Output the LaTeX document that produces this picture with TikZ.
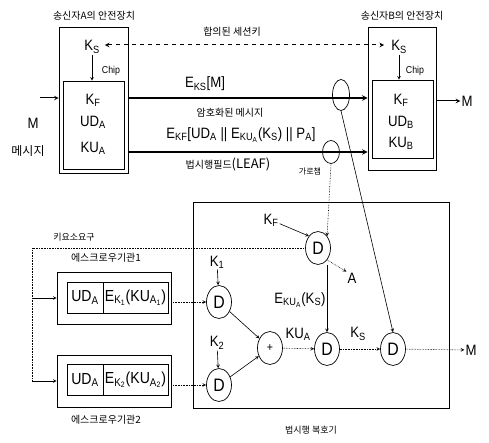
\documentclass[tikz,border=0pt]{standalone}
\usepackage{fontspec}
\setmainfont{Liberation Sans}[FakeStretch=0.88]
\newfontfamily\kr{Noto Sans CJK KR}
\usepackage{tikz}
\usetikzlibrary{shapes.geometric, arrows, positioning, calc}
\newcommand{\sub}[1]{\textsubscript{#1}}
\tikzstyle{outer3} = [rectangle, draw=black, line width=0.7pt, inner sep=0pt]
\tikzstyle{cell3} = [rectangle, draw=black, line width=0.7pt, outer sep=0pt, minimum height=31pt, inner sep=1pt, font=\fontsize{16}{18}\selectfont]
\tikzstyle{lbl3} = [inner sep=1pt, font=\fontsize{15}{17}\selectfont]
\tikzstyle{kor3} = [inner sep=1pt, font=\kr\fontsize{10}{12}\selectfont]
\tikzstyle{dec3} = [ellipse, draw=black, line width=0.7pt, minimum width=25pt, minimum height=33pt, inner sep=0pt, font=\fontsize{18}{20}\selectfont]
\tikzstyle{tap3} = [ellipse, draw=black, line width=0.7pt, inner sep=0pt]
\tikzstyle{arrow3} = [line width=1.5pt,->,>=stealth]
\tikzstyle{thin3} = [line width=0.6pt,->,>=stealth]
\tikzstyle{dots3} = [line width=0.6pt, densely dotted]
\tikzstyle{dotarrow3} = [dots3,->,>=stealth]

\begin{document}
\begin{tikzpicture}[x=1pt, y=-1pt]
            \useasboundingbox (0,0) rectangle (489,443);
            % Nodes
            \node (outA) [outer3, minimum width=69pt, minimum height=146pt] at (93.5,100) {};
            \node (inA) [outer3, minimum width=61pt, minimum height=88pt] at (93.5,125) {};
            \node (outB) [outer3, minimum width=68pt, minimum height=143pt] at (402,98.5) {};
            \node (inB) [outer3, minimum width=61pt, minimum height=78pt] at (402.5,119) {};
            \node (devA) [kor3] at (94,16) {송신자A의 안전장치};
            \node (devB) [kor3] at (402,16) {송신자B의 안전장치};

            \node (ksA) [lbl3] at (92,47) {K\sub{S}};
            \node (chipA) [lbl3, font=\fontsize{10}{12}\selectfont] at (111,71) {Chip};
            \node (kfA) [lbl3] at (93,100) {K\sub{F}};
            \node (udA) [lbl3] at (93,122) {UD\sub{A}};
            \node (kuA) [lbl3] at (93,148) {KU\sub{A}};

            \node (ksB) [lbl3] at (399,47) {K\sub{S}};
            \node (chipB) [lbl3, font=\fontsize{10}{12}\selectfont] at (415,71) {Chip};
            \node (kfB) [lbl3] at (401,100) {K\sub{F}};
            \node (udB) [lbl3] at (401,122) {UD\sub{B}};
            \node (kuB) [lbl3] at (401,143) {KU\sub{B}};

            \node (mA) [lbl3] at (33,123) {M};
            \node (msgA) [kor3, font=\kr\fontsize{12}{14}\selectfont] at (28,151) {메시지};
            \node (mB) [lbl3] at (467,101) {M};
            \coordinate (mIn) at (40,98);

            \node (sesskey) [kor3] at (232,32) {합의된 세션키};
            \node (eksm) [lbl3] at (205,84) {E\sub{KS}[M]};
            \node (encmsg) [kor3] at (230,113) {암호화된 메시지};
            \node (leafexp) [lbl3] at (241,135) {E\sub{KF}[UD\sub{A} || E\sub{KU\sub{A}}(K\sub{S}) || P\sub{A}]};
            \node (leaflbl) [kor3] at (228,164) {법시행필드\fontsize{13}{15}\selectfont(LEAF)};
            \coordinate (leafA) at (128,152);

            \node (tap1) [tap3, minimum width=17pt, minimum height=31pt] at (341,95) {};
            \node (tap2) [tap3, minimum width=17pt, minimum height=23pt] at (331,152) {};
            \node (intercept) [kor3, font=\kr\fontsize{8}{10}\selectfont] at (310,172) {가로챔};

            \node (lawbox) [outer3, minimum width=256pt, minimum height=206pt] at (321,305) {};
            \node (lawlbl) [kor3, font=\kr\fontsize{9}{11}\selectfont] at (311,430) {법시행 복호기};

            \node (dF) [dec3] at (318,248) {D};
            \node (kF) [lbl3] at (271,220) {K\sub{F}};
            \node (aOut) [lbl3] at (352,278) {A};
            \node (dK1) [dec3] at (219,302) {D};
            \node (k1) [lbl3] at (217,262) {K\sub{1}};
            \node (dK2) [dec3] at (219,385) {D};
            \node (k2) [lbl3] at (217,343) {K\sub{2}};
            \node (plus) [dec3, font=\fontsize{12}{14}\selectfont] at (270,348) {+};
            \node (dKU) [dec3] at (327,349) {D};
            \node (dM) [dec3] at (393,349) {D};
            \node (ekuks) [lbl3] at (300,300) {E\sub{KU\sub{A}}(K\sub{S})};
            \node (kuAlbl) [lbl3] at (298,334) {KU\sub{A}};
            \node (ksLbl) [lbl3] at (358,334) {K\sub{S}};
            \node (mOut) [lbl3] at (471,350) {M};

            \node (keyreq) [kor3, font=\kr\fontsize{9}{11}\selectfont] at (74,237) {키요소요구};
            \coordinate (kreq) at (32,248);

            \node (esc1) [outer3, minimum width=114pt, minimum height=52pt] at (114,298) {};
            \node (ud1) [cell3, minimum width=36pt] at (85,297.5) {UD\sub{A}};
            \node (ek1) [cell3, minimum width=65pt, right=0pt of ud1] {E\sub{K\sub{1}}(KU\sub{A\sub{1}})};
            \node (esc1lbl) [kor3] at (106,258) {에스크로우기관1};
            \node (esc2) [outer3, minimum width=114pt, minimum height=52pt] at (114,381) {};
            \node (ud2) [cell3, minimum width=36pt] at (85,380) {UD\sub{A}};
            \node (ek2) [cell3, minimum width=65pt, right=0pt of ud2] {E\sub{K\sub{2}}(KU\sub{A\sub{2}})};
            \node (esc2lbl) [kor3] at (106,420) {에스크로우기관2};

            % Edges
            \draw [line width=1pt, dashed, dash pattern=on 4pt off 4pt, <->, >=stealth] ($(ksA.east)+(4,-2)$) -- ($(ksB.west)+(-6,-2)$);
            \draw [thin3] (ksA.south) -- (ksA.south |- inA.north);
            \draw [thin3] (ksB.south) -- (ksB.south |- inB.north);
            \draw [thin3, line width=1pt] (mIn) -- (mIn -| outA.west);
            \draw [thin3, line width=1pt] (outB.east |- mB) -- (mB.west);
            \draw [arrow3] ($(outA.east |- tap1)+(0,3)$) -- ($(outB.west |- tap1)+(0,3)$);
            \draw [arrow3] (leafA) -- (leafA -| outB.west);

            \draw [dotarrow3] (tap2.south) -- (dF.north east);
            \draw [thin3] (tap1.south) -- (dM.north);
            \draw [thin3] (kF) -- (dF.north west);
            \draw [dotarrow3] (dF.south east) -- (aOut.north west);
            \draw [thin3] (dKU.north |- dF.south) -- (dKU.north);

            \draw [dots3] (dF.west) -- (kreq) -- (kreq |- esc2.west);
            \draw [thin3] (kreq |- esc1.west) -- (esc1.west);
            \draw [thin3] (kreq |- esc2.west) -- (esc2.west);
            \draw [dotarrow3] (dK1.west -| esc1.east) -- (dK1.west);
            \draw [dotarrow3] (dK2.west -| esc2.east) -- (dK2.west);

            \draw [thin3] (k1) -- (dK1);
            \draw [thin3] (k2) -- (dK2);
            \draw [thin3] (dK1) -- (plus);
            \draw [thin3] (dK2) -- (plus);
            \draw [dotarrow3] (plus) -- (dKU);
            \draw [dotarrow3] (dKU) -- (dM);
            \draw [dotarrow3] (dM) -- (mOut);
        \end{tikzpicture}
\end{document}
